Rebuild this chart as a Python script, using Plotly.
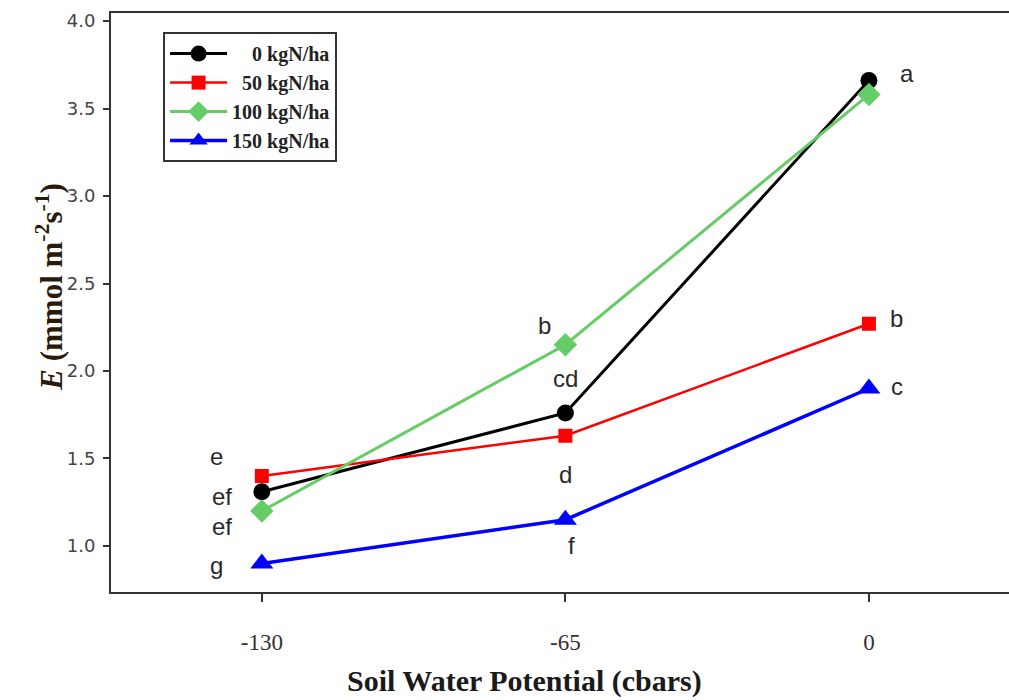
import plotly.graph_objects as go

# Soil water potential levels (cbars)
potential = [-130, -65, 0]

# Transpiration rate E (mmol m-2 s-1) by nitrogen rate
e_0n = [1.31, 1.76, 3.66]
e_50n = [1.40, 1.63, 2.27]
e_100n = [1.20, 2.15, 3.58]
e_150n = [0.90, 1.15, 1.90]

series_names = ["\u2007\u20070 kgN/ha", "\u200750 kgN/ha", "100 kgN/ha", "150 kgN/ha"]
series_values = [e_0n, e_50n, e_100n, e_150n]
series_colors = ["#000000", "#ff0000", "#66cc66", "#0000ff"]
series_symbols = ["circle", "square", "diamond", "triangle-up"]
marker_sizes = [17, 14, 18, 20]
line_widths = [3, 2.5, 3, 3.5]

# Mean separation letters: (x, y, text)
letters_x = [0, 0, 0, -65, -65, -65, -65, -130, -130, -130, -130]
letters_y = [3.70, 2.30, 1.91, 2.26, 1.96, 1.41, 1.00, 1.51, 1.28, 1.11, 0.89]
letters_text = ["a", "b", "c", "b", "cd", "d", "f", "e", "ef", "ef", "g"]
letters_dx = [38, 28, 28, -21, 0, 0, 6, -45, -40, -40, -45]

fig = go.Figure()
for i, (name, vals) in enumerate(zip(series_names, series_values)):
    fig.add_trace(go.Scatter(
        x=potential, y=vals, name=f"<b>{name}</b>", mode="lines+markers",
        legendgroup=f"g{i}",
        line=dict(color=series_colors[i], width=line_widths[i]),
        marker=dict(symbol=series_symbols[i], size=marker_sizes[i],
                    color=series_colors[i], line=dict(width=0)),
    ))

for x, y, t, dx in zip(letters_x, letters_y, letters_text, letters_dx):
    fig.add_annotation(x=x, y=y, text=t, showarrow=False, xshift=dx,
                       font=dict(family="Liberation Sans", size=24, color="#2a2a2a"))

fig.add_annotation(xref="paper", yref="paper", x=0.46, y=-0.153,
                   text="<b>Soil Water Potential (cbars)</b>", showarrow=False,
                   yanchor="middle",
                   font=dict(family="Liberation Serif", size=30, color="#1a1a1a"))
fig.add_annotation(xref="paper", yref="paper", x=-0.092, y=0.527,
                   text="<b><i>E</i> (mmol m<sup>-2</sup>s<sup>-1</sup>)</b>",
                   textangle=-90, showarrow=False,
                   font=dict(family="Liberation Serif", size=31, color="#2a1a0a"))

fig.update_layout(
    width=1009, height=700,
    margin=dict(l=111, r=0, t=13, b=108),
    paper_bgcolor="white", plot_bgcolor="white",
    showlegend=True,
    legend=dict(
        x=0.058, y=0.967, xanchor="left", yanchor="top",
        bgcolor="white", bordercolor="#333333", borderwidth=2,
        font=dict(family="Liberation Serif", size=20, color="#222222"),
        itemwidth=57, tracegroupgap=0,
    ),
    xaxis=dict(
        range=[-162.3, 30], tickvals=potential, ticktext=["-130", "-65", "0"],
        showgrid=False, zeroline=False, showline=True, linecolor="#333333",
        linewidth=2, mirror=True, ticks="outside", ticklen=8, tickwidth=1.5,
        tickcolor="#333333", ticklabelstandoff=20,
        tickfont=dict(family="Liberation Serif", size=23, color="#333333"),
    ),
    yaxis=dict(
        range=[0.737, 4.046], tickvals=[1.0, 1.5, 2.0, 2.5, 3.0, 3.5, 4.0],
        tickformat=".1f",
        showgrid=False, zeroline=False, showline=True, linecolor="#333333",
        linewidth=2, ticks="outside", ticklen=6, tickwidth=1.5,
        tickcolor="#333333", ticklabelstandoff=4,
        tickfont=dict(family="DejaVu Sans", size=18, color="#444444"),
    ),
)

fig.write_html("out.html")
